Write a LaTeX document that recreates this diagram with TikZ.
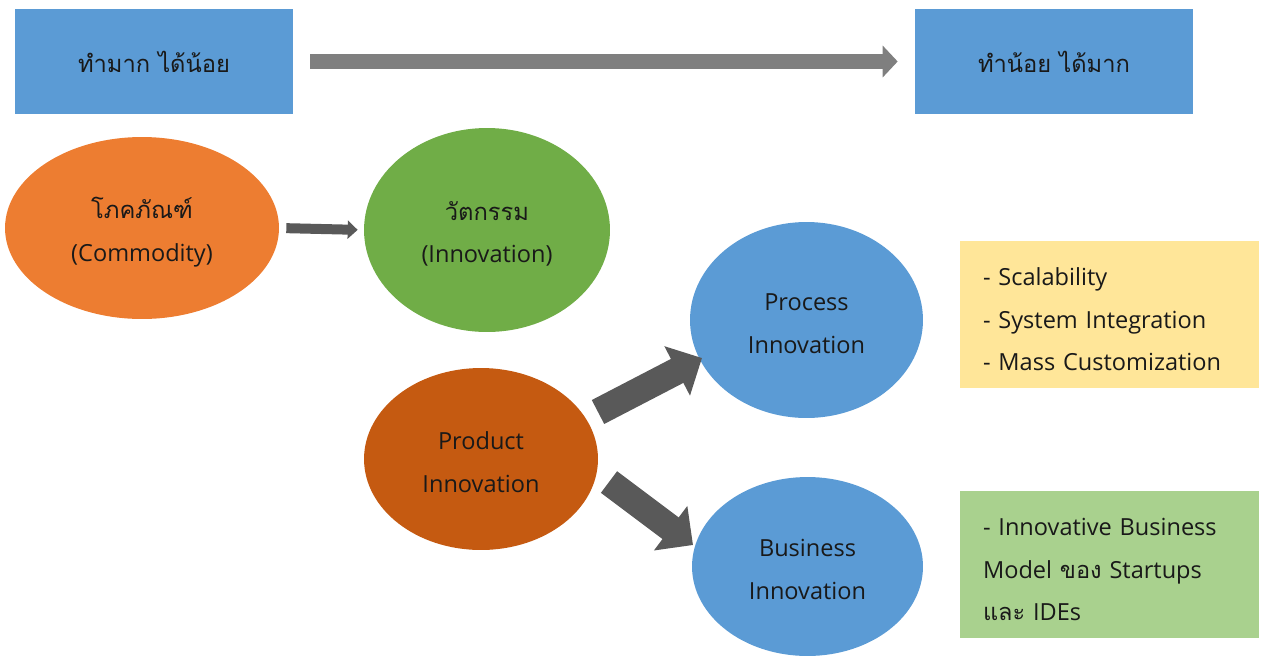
\documentclass[tikz,border=0pt]{standalone}
\usepackage{fontspec}
\setmainfont{Open Sans}
\newfontfamily\thai[Script=Thai]{Loma}
\usetikzlibrary{arrows.meta, shapes.geometric}

\definecolor{boxblue}{HTML}{5B9BD5}
\definecolor{commodorange}{HTML}{ED7D31}
\definecolor{innovgreen}{HTML}{70AD47}
\definecolor{productbrown}{HTML}{C55A11}
\definecolor{noteyellow}{HTML}{FFE699}
\definecolor{notegreen}{HTML}{A9D18E}
\definecolor{arrowgray}{HTML}{7F7F7F}
\definecolor{arrowdark}{HTML}{595959}

\newcommand\thaitext[1]{{\thai\fontsize{13.5}{24.2}\selectfont #1}}

\begin{document}
\begin{tikzpicture}[x=0.02cm, y=-0.02cm,
  every node/.style={font=\fontsize{13.4}{24.2}\selectfont, text=black!90,
    align=center},
  topbox/.style={fill=boxblue, minimum width=5.56cm, minimum height=2.1cm},
  oval/.style={ellipse, inner sep=0pt, text height=1.42cm, text depth=0.1cm},
  notebox/.style={minimum width=5.98cm, minimum height=2.94cm, align=left,
    text width=5.06cm, text height=0.5cm, text depth=1.66cm},
  toparrow/.style={draw=arrowgray, line width=0.3cm,
    -{Triangle[length=0.3cm, width=0.62cm]}, shorten <=0.34cm, shorten >=0.34cm},
  thinarrow/.style={draw=arrowdark, line width=0.2cm,
    -{Triangle[length=0.2cm, width=0.36cm]}, shorten <=0.14cm, shorten >=0.12cm},
  fatarrow/.style={draw=arrowdark, line width=0.54cm,
    -{Triangle[length=0.56cm, width=1.08cm]}}]
\useasboundingbox (0,0) rectangle (1261,660);
% top row
\node[topbox] (lessout) at (154,61.5) {\thaitext{ทำมาก ได้น้อย}};
\node[topbox] (moreout) at (1054,61.5) {\thaitext{ทำน้อย ได้มาก}};
\draw[toparrow] (lessout.east) -- (moreout.west);
% commodity to innovation
\node[oval, fill=commodorange, minimum width=5.48cm, minimum height=3.64cm]
  (commod) at (142,228) {\thaitext{โภคภัณฑ์}\\(Commodity)};
\node[oval, fill=innovgreen, minimum width=4.92cm, minimum height=4.08cm]
  (innov) at (487,230) {\thaitext{วัตกรรม}\\(Innovation)};
\draw[thinarrow] (commod.east) -- (innov.west);
% product splits in two
\node[oval, fill=productbrown, minimum width=4.68cm, minimum height=3.64cm]
  (prod) at (481,459) {Product\\Innovation};
\node[oval, fill=boxblue, minimum width=4.66cm, minimum height=3.92cm]
  (proc) at (806.5,320) {Process\\Innovation};
\node[oval, fill=boxblue, minimum width=4.62cm, minimum height=3.58cm]
  (busi) at (807.5,566.5) {Business\\Innovation};
\draw[fatarrow] ([shift={(117,-47)}]prod.center) -- ([shift={(-104.5,38)}]proc.center);
\draw[fatarrow] ([shift={(128,23)}]prod.center) -- ([shift={(-114.5,-21.5)}]busi.center);
% notes on the right
\node[notebox, fill=noteyellow] (procnote) at (1109.5,314.5)
  {- Scalability\\- System Integration\\- Mass Customization};
\node[notebox, fill=notegreen] (businote) at (1109.5,564.5)
  {- Innovative Business\\Model {\thai ของ} Startups\\{\thai และ} IDEs};
\end{tikzpicture}
\end{document}
